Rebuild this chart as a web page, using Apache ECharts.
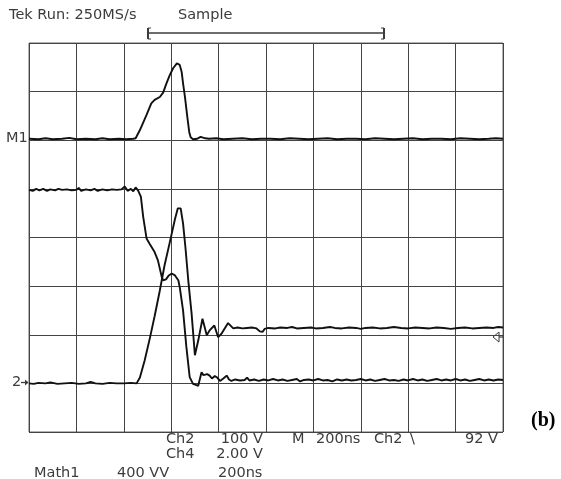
<!DOCTYPE html>
<html>
<head>
<meta charset="utf-8">
<script src="https://cdn.jsdelivr.net/npm/echarts@6/dist/echarts.min.js"></script>
<style>
html,body{margin:0;padding:0;background:#fff;}
#c{width:561px;height:479px;}
</style>
</head>
<body>
<div id="c"></div>
<script>
// Time axis in divisions (0..10), vertical axis in divisions (0..8)
const xDivs = [0, 10];
const yDivs = [0, 8];

// Math1 trace (top)
const math1 = [
[0,6.03],[0.2,6.02],[0.35,6.04],[0.5,6.02],[0.7,6.03],[0.85,6.05],[1.0,6.02],[1.2,6.03],[1.4,6.02],[1.55,6.04],[1.7,6.02],[1.9,6.03],[2.05,6.02],[2.2,6.03],[2.25,6.04],
[2.34,6.21],[2.48,6.52],[2.58,6.76],[2.65,6.83],[2.76,6.89],[2.83,6.98],[2.90,7.17],[2.97,7.34],[3.04,7.48],[3.12,7.58],[3.18,7.55],[3.22,7.41],[3.25,7.17],[3.29,6.89],[3.34,6.48],[3.38,6.17],[3.41,6.06],[3.46,6.02],
[3.55,6.03],[3.62,6.07],[3.66,6.09],[3.72,6.04],[3.8,6.03],[3.95,6.04],[4.1,6.02],[4.3,6.03],[4.5,6.04],[4.7,6.02],[4.9,6.03],[5.1,6.03],[5.3,6.02],[5.5,6.04],[5.7,6.03],[5.9,6.02],[6.1,6.03],[6.3,6.04],[6.5,6.02],[6.7,6.03],[6.9,6.03],[7.1,6.02],[7.3,6.04],[7.5,6.03],[7.7,6.02],[7.9,6.03],[8.1,6.04],[8.3,6.02],[8.5,6.03],[8.7,6.03],[8.9,6.02],[9.1,6.04],[9.3,6.03],[9.5,6.02],[9.7,6.03],[9.85,6.04],[10,6.03]
];

// Ch2 trace (starts high, falls)
const ch2 = [
[0,4.98],[0.08,4.96],[0.15,5.0],[0.22,4.97],[0.3,5.0],[0.38,4.96],[0.45,4.99],[0.55,4.97],[0.62,5.0],[0.7,4.98],[0.8,4.99],[0.9,4.97],[1.0,4.98],[1.05,5.02],[1.1,4.96],[1.2,4.99],[1.3,4.97],[1.38,5.0],[1.45,4.96],[1.55,4.99],[1.65,4.97],[1.75,4.99],[1.85,4.98],[1.95,4.99],[2.02,5.05],[2.08,4.96],[2.15,5.0],[2.2,4.95],[2.25,5.03],[2.3,4.97],[2.32,4.98],
[2.36,4.84],[2.41,4.42],[2.48,3.98],[2.55,3.86],[2.65,3.70],[2.72,3.53],[2.80,3.19],[2.83,3.12],[2.89,3.14],[2.95,3.22],[3.01,3.26],[3.08,3.22],[3.15,3.12],[3.18,2.98],[3.25,2.50],[3.32,1.75],[3.39,1.13],[3.46,0.99],[3.52,0.97],[3.57,0.95],[3.64,1.23],[3.68,1.17],[3.71,1.13],[3.76,1.19],[3.81,1.16],[3.86,1.10],[3.92,1.15],[3.97,1.12],[4.03,1.05],[4.1,1.1],[4.17,1.16],[4.22,1.08],[4.27,1.05],
[4.35,1.08],[4.45,1.06],[4.55,1.07],[4.6,1.12],[4.65,1.06],[4.75,1.08],[4.85,1.05],[4.95,1.08],[5.05,1.06],[5.15,1.09],[5.25,1.06],[5.35,1.08],[5.45,1.05],[5.55,1.07],[5.65,1.09],[5.72,1.04],[5.8,1.07],[5.9,1.08],[6.0,1.06],[6.1,1.09],[6.2,1.06],[6.3,1.07],[6.4,1.04],[6.5,1.08],[6.6,1.06],[6.7,1.08],[6.8,1.06],[6.9,1.07],[7.0,1.09],[7.1,1.06],[7.2,1.08],[7.3,1.05],[7.4,1.07],[7.5,1.09],[7.6,1.06],[7.7,1.07],[7.8,1.05],[7.9,1.08],[8.0,1.06],[8.1,1.09],[8.2,1.06],[8.3,1.08],[8.4,1.05],[8.5,1.07],[8.6,1.09],[8.7,1.06],[8.8,1.08],[8.9,1.06],[9.0,1.09],[9.1,1.06],[9.2,1.08],[9.3,1.05],[9.4,1.07],[9.5,1.09],[9.6,1.06],[9.7,1.08],[9.8,1.06],[9.9,1.08],[10,1.07]
];

// Ch4 trace (starts at baseline, rises to peak, rings)
const ch4 = [
[0,1.0],[0.1,0.99],[0.2,1.01],[0.35,1.0],[0.45,1.02],[0.6,0.99],[0.75,1.0],[0.9,1.01],[1.05,0.99],[1.2,1.0],[1.3,1.03],[1.4,1.0],[1.55,0.99],[1.7,1.01],[1.85,1.0],[2.0,1.0],[2.15,1.01],[2.27,1.0],
[2.34,1.12],[2.44,1.47],[2.55,1.93],[2.65,2.38],[2.76,2.91],[2.86,3.43],[2.97,3.90],[3.08,4.38],[3.14,4.60],[3.17,4.64],[3.20,4.60],[3.25,4.29],[3.30,3.80],[3.36,3.12],[3.43,2.44],[3.50,1.58],[3.57,1.88],[3.66,2.33],[3.75,1.99],[3.81,2.09],[3.91,2.19],[3.99,1.95],[4.06,2.02],[4.20,2.24],[4.31,2.13],
[4.4,2.15],[4.5,2.13],[4.6,2.14],[4.7,2.15],[4.8,2.13],[4.87,2.07],[4.93,2.06],[4.97,2.12],[5.05,2.14],[5.2,2.13],[5.3,2.15],[5.45,2.14],[5.55,2.16],[5.65,2.13],[5.8,2.14],[5.95,2.15],[6.05,2.13],[6.2,2.14],[6.35,2.16],[6.45,2.14],[6.6,2.13],[6.75,2.15],[6.9,2.14],[7.0,2.12],[7.1,2.14],[7.25,2.15],[7.4,2.13],[7.55,2.14],[7.7,2.16],[7.85,2.14],[8.0,2.13],[8.15,2.15],[8.3,2.14],[8.45,2.13],[8.6,2.15],[8.75,2.14],[8.9,2.12],[9.05,2.14],[9.2,2.15],[9.35,2.13],[9.5,2.14],[9.65,2.15],[9.8,2.14],[9.9,2.16],[10,2.15]
];

const headerTexts = ['Tek Run: 250MS/s', 'Sample'];
const footerRow1 = ['Ch2', '100 V', 'M', '200ns', 'Ch2', '\\', '92 V'];
const footerRow2 = ['Ch4', '2.00 V'];
const footerRow3 = ['Math1', '400 VV', '200ns'];
const figLabel = '(b)';

const chart = echarts.init(document.getElementById('c'), null, {renderer: 'canvas'});

const FONT = '14.5px "DejaVu Sans"';
const TXT = '#3c3c3c';
function txt(s, x, y, align) {
  return {type: 'text', x: x, y: y, silent: true,
    style: {text: s, font: FONT, fill: TXT, align: align || 'left', textAlign: align || 'left', verticalAlign: 'middle', textVerticalAlign: 'middle'}};
}
function seg(x1, y1, x2, y2, w) {
  return {type: 'line', silent: true, shape: {x1: x1, y1: y1, x2: x2, y2: y2}, style: {stroke: TXT, lineWidth: w || 1.3}};
}

const gridColor = '#444444';
const option = {
  animation: false,
  backgroundColor: '#ffffff',
  grid: {left: 29, top: 43, width: 474, height: 389, show: true, borderColor: '#666666', borderWidth: 1, backgroundColor: 'transparent'},
  xAxis: {type: 'value', min: xDivs[0], max: xDivs[1], interval: 1,
    axisLine: {show: false}, axisTick: {show: false}, axisLabel: {show: false},
    splitLine: {show: true, lineStyle: {color: gridColor, width: 1}}},
  yAxis: {type: 'value', min: yDivs[0], max: yDivs[1], interval: 1,
    axisLine: {show: false}, axisTick: {show: false}, axisLabel: {show: false},
    splitLine: {show: true, lineStyle: {color: gridColor, width: 1}}},
  series: [
    {name: 'Math1', type: 'line', data: math1, showSymbol: false, smooth: false, lineStyle: {color: '#111', width: 1.9}},
    {name: 'Ch2', type: 'line', data: ch2, showSymbol: false, smooth: false, lineStyle: {color: '#111', width: 1.9}},
    {name: 'Ch4', type: 'line', data: ch4, showSymbol: false, smooth: false, lineStyle: {color: '#111', width: 1.9}}
  ],
  graphic: [
    txt(headerTexts[0], 9, 15),
    txt(headerTexts[1], 178, 15),
    seg(148, 33, 384, 33, 1.3),
    seg(148, 28, 148, 39, 2),
    seg(384, 28, 384, 39, 2),
    seg(148, 28, 151, 28, 1), seg(148, 39, 151, 39, 1),
    seg(381, 28, 384, 28, 1), seg(381, 39, 384, 39, 1),
    txt('M1', 6, 138),
    txt('2', 12, 382),
    seg(21, 382.5, 28, 382.5, 1.3),
    {type: 'polygon', silent: true, shape: {points: [[28.5, 382.5], [25, 379.5], [25, 385.5]]}, style: {fill: TXT}},
    {type: 'polygon', silent: true, shape: {points: [[493, 337], [499, 332], [499, 342]]}, style: {fill: '#fff', stroke: TXT, lineWidth: 1}},
    seg(499, 337, 504, 337, 1.2),
    txt(footerRow1[0], 166, 439),
    txt(footerRow1[1], 263, 439, 'right'),
    txt(footerRow1[2], 292, 439),
    txt(footerRow1[3], 316, 439),
    txt(footerRow1[4], 374, 439),
    txt(footerRow1[5], 410, 439),
    txt(footerRow1[6], 498, 439, 'right'),
    txt(footerRow2[0], 166, 454),
    txt(footerRow2[1], 263, 454, 'right'),
    txt(footerRow3[0], 34, 473),
    txt(footerRow3[1], 117, 473),
    txt(footerRow3[2], 218, 473),
    {type: 'text', x: 531, y: 421, silent: true,
      style: {text: figLabel, font: 'bold 20px "Liberation Serif"', fill: '#000', align: 'left', textAlign: 'left', verticalAlign: 'middle', textVerticalAlign: 'middle'}}
  ]
};
chart.setOption(option);
</script>
</body>
</html>
